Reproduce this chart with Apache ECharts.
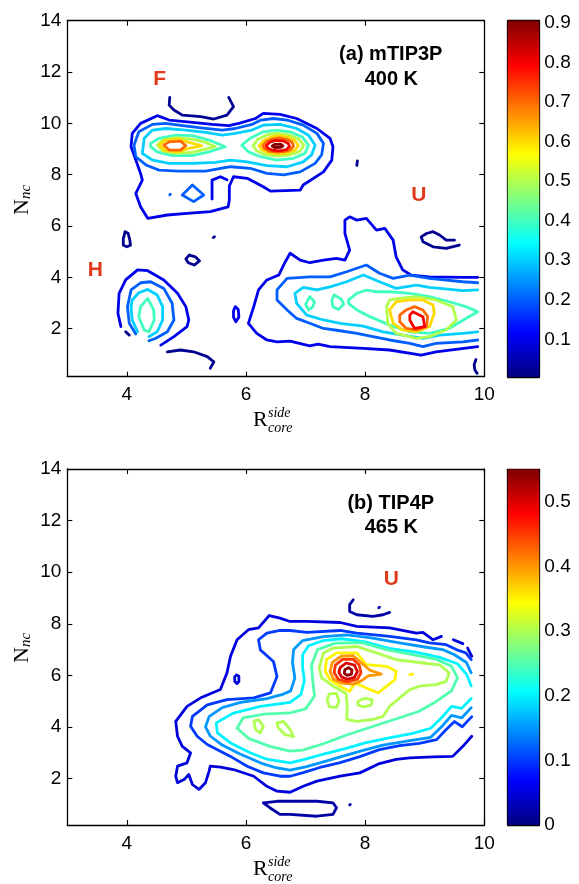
<!DOCTYPE html>
<html><head><meta charset="utf-8">
<script src="https://cdn.jsdelivr.net/npm/echarts@6/dist/echarts.min.js"></script>
<style>html,body{margin:0;padding:0;background:#fff}#c{width:579px;height:884px}</style>
</head><body><div id="c"></div>
<script>
// ================= DATA =================
const xTicks = [4, 6, 8, 10];
const yTicks = [2, 4, 6, 8, 10, 12, 14];
const xRange = [3, 10];
const yRangeA = [0.13, 14];
const yRangeB = [0.2, 14];
const cbRangeA = [0.005, 0.905];
const cbRangeB = [0, 0.55];
const cbTicksA = [0.1, 0.2, 0.3, 0.4, 0.5, 0.6, 0.7, 0.8, 0.9];
const cbTicksB = [0, 0.1, 0.2, 0.3, 0.4, 0.5];

// ---- panel (a) contour paths [x, y] ----
const aNavyArcF = [[4.72,11.01],[4.71,10.71],[4.79,10.52],[4.93,10.32],[5.24,10.26],[5.46,10.17],[5.68,10.32],[5.79,10.65],[5.71,11.01]];
const aNavyLoop1 = [[3.97,5.78],[4.02,5.72],[4.05,5.45],[4.06,5.25],[4.0,5.19],[3.94,5.25],[3.94,5.5],[3.97,5.78]];
const aNavyLoop2 = [[5.05,4.87],[5.15,4.80],[5.22,4.64],[5.13,4.48],[5.03,4.57],[4.99,4.72],[5.05,4.87]];
const aNavyDot1 = [[5.45,5.55],[5.47,5.58]];
const aNavyDot2 = [[7.86,8.36],[7.87,8.54]];
const aNavyArcU = [[9.50,5.45],[9.36,5.45],[9.25,5.65],[9.14,5.78],[9.03,5.71],[8.94,5.58],[8.97,5.39],[9.14,5.19],[9.36,5.13],[9.58,5.26]];
const aNavyArcBottom = [[4.68,1.10],[4.90,1.17],[5.12,1.10],[5.35,0.91],[5.46,0.71],[5.40,0.46]];
const aNavyEdge = [[9.86,0.80],[9.83,0.60],[9.84,0.40],[9.88,0.26]];
const aNavyDash = [[3.98,1.88],[4.04,1.75]];

const aBlueMain = [[4.51,10.30],[4.71,10.13],[5.10,10.04],[5.43,9.96],[5.71,9.91],[5.88,10.0],[6.16,10.19],[6.29,10.39],[6.57,10.35],[6.85,10.19],[7.19,9.80],[7.41,9.42],[7.46,9.09],[7.44,8.57],[7.30,8.11],[6.96,7.60],[6.91,7.40],[6.41,7.36],[6.29,7.53],[6.02,7.86],[5.79,7.92],[5.72,7.56],[5.72,7.01],[5.70,6.75],[5.40,6.56],[5.01,6.49],[4.68,6.43],[4.35,6.30],[4.23,6.75],[4.15,7.27],[4.26,7.79],[4.23,8.05],[4.15,8.57],[4.07,9.09],[4.09,9.61],[4.23,10.0],[4.51,10.30]];
const aBlueHook = [[5.43,7.05],[5.43,7.79],[5.57,7.92],[5.68,7.80]];
const aBlueSmall = [[5.82,2.86],[5.87,2.75],[5.88,2.45],[5.83,2.27],[5.79,2.45],[5.79,2.7],[5.82,2.86]];
const aBlueH = [[3.90,2.08],[3.85,2.60],[3.87,3.38],[3.98,3.90],[4.18,4.29],[4.35,4.26],[4.62,3.90],[4.85,3.38],[4.99,2.86],[5.04,2.34],[5.01,2.08],[4.79,1.69],[4.57,1.36]];
const aBlueU = [[9.89,4.0],[9.64,4.0],[9.08,4.02],[8.77,4.09],[8.63,4.29],[8.52,4.80],[8.47,5.45],[8.33,5.91],[8.19,5.84],[8.02,6.30],[7.86,6.23],[7.74,6.36],[7.66,6.23],[7.66,5.71],[7.74,5.06],[7.66,4.67],[7.52,4.74],[7.30,4.67],[7.07,4.57],[6.91,4.67],[6.74,4.94],[6.66,4.61],[6.55,4.09],[6.35,3.90],[6.21,3.51],[6.13,2.86],[6.04,2.21],[6.18,1.82],[6.35,1.56],[6.52,1.49],[6.74,1.52],[7.07,1.33],[7.21,1.40],[7.41,1.30],[7.97,1.23],[8.41,1.17],[8.94,0.97],[9.19,1.10],[9.89,1.30]];

const aMidMain = [[4.12,9.15],[4.20,9.67],[4.43,9.96],[4.65,10.0],[4.87,9.93],[5.21,9.83],[5.60,9.74],[5.82,9.80],[6.10,9.96],[6.25,10.13],[6.46,10.19],[6.69,10.13],[6.96,9.93],[7.19,9.61],[7.30,9.22],[7.27,8.77],[7.16,8.44],[6.91,8.11],[6.63,7.99],[6.35,8.05],[6.07,8.25],[5.74,8.31],[5.32,8.14],[4.87,8.14],[4.54,8.18],[4.32,8.38],[4.15,8.70],[4.12,9.15]];
const aMidLoop = [[4.93,7.21],[5.10,7.60],[5.29,7.21],[5.12,6.95],[4.93,7.21]];
const aMidDot = [[4.72,7.21],[4.73,7.24]];
const aMidH = [[4.15,1.79],[4.04,2.21],[4.01,2.86],[4.07,3.51],[4.23,3.79],[4.40,3.83],[4.62,3.57],[4.76,2.99],[4.79,2.34],[4.68,1.88],[4.48,1.62],[4.37,1.53]];
const aMidU = [[9.89,3.79],[9.64,3.83],[9.08,3.96],[8.75,4.09],[8.47,3.96],[8.24,4.16],[8.02,4.48],[7.69,4.22],[7.41,4.02],[7.07,4.02],[6.69,3.96],[6.52,3.51],[6.52,3.12],[6.69,2.73],[6.85,2.40],[7.07,2.21],[7.30,2.01],[7.58,1.92],[7.86,1.82],[8.13,1.69],[8.41,1.56],[8.75,1.43],[8.97,1.30],[9.19,1.43],[9.64,1.49],[9.89,1.56]];

const aCyMain = [[4.26,8.83],[4.29,9.42],[4.43,9.74],[4.65,9.80],[4.99,9.74],[5.32,9.65],[5.60,9.54],[5.82,9.61],[6.10,9.74],[6.29,9.93],[6.57,9.96],[6.85,9.80],[7.05,9.54],[7.16,9.15],[7.10,8.77],[6.96,8.50],[6.69,8.31],[6.35,8.35],[6.02,8.50],[5.74,8.57],[5.49,8.48],[5.10,8.44],[4.71,8.44],[4.43,8.57],[4.26,8.83]];
const aCyH = [[4.18,1.88],[4.09,2.34],[4.07,2.86],[4.09,3.12],[4.20,3.40],[4.35,3.53],[4.51,3.31],[4.60,2.86],[4.60,2.34],[4.51,1.88],[4.37,1.69]];
const aCyU = [[9.89,3.51],[9.64,3.48],[9.08,3.61],[8.86,3.70],[8.52,3.57],[8.24,3.83],[7.97,4.09],[7.69,3.83],[7.41,3.63],[7.19,3.51],[6.96,3.61],[6.82,3.38],[6.85,2.99],[7.02,2.53],[7.30,2.34],[7.58,2.21],[7.97,2.10],[8.30,1.88],[8.63,1.75],[8.97,1.62],[9.25,1.75],[9.64,1.82],[9.89,1.88]];

const aAqF = [[4.40,9.22],[4.54,9.42],[4.82,9.54],[5.10,9.52],[5.38,9.35],[5.65,9.09],[5.38,8.89],[5.10,8.74],[4.76,8.74],[4.51,8.89],[4.40,9.09],[4.40,9.22]];
const aAqC = [[5.93,9.15],[6.07,9.42],[6.29,9.67],[6.52,9.74],[6.74,9.67],[6.94,9.48],[7.05,9.15],[6.99,8.83],[6.80,8.64],[6.52,8.57],[6.24,8.70],[6.04,8.89],[5.93,9.15]];
const aAqH = [[4.35,3.18],[4.45,2.73],[4.46,2.34],[4.37,1.88],[4.29,1.95],[4.20,2.47],[4.23,2.86],[4.35,3.18]];
const aAqU = [[7.72,3.12],[7.86,3.38],[8.02,3.50],[8.19,3.44],[8.41,3.44],[8.75,3.38],[9.08,3.25],[9.41,3.05],[9.69,2.86],[9.89,2.66],[9.69,2.40],[9.41,2.01],[9.08,1.82],[8.75,1.88],[8.41,2.14],[8.08,2.47],[7.86,2.73],[7.72,2.99],[7.72,3.12]];
const aAqU1 = [[7.07,3.25],[7.15,3.05],[7.12,2.85],[7.05,2.73],[7.0,2.95],[7.07,3.25]];
const aAqU2 = [[7.48,3.32],[7.60,3.15],[7.64,2.95],[7.55,2.75],[7.46,2.85],[7.44,3.1],[7.48,3.32]];

const aYgF = [[4.51,9.15],[4.60,9.35],[4.82,9.44],[5.10,9.39],[5.32,9.26],[5.49,9.09],[5.32,9.0],[5.10,8.87],[4.82,8.83],[4.60,8.93],[4.51,9.15]];
const aYgC = [[6.12,9.13],[6.2,9.38],[6.35,9.55],[6.52,9.62],[6.72,9.55],[6.88,9.4],[6.97,9.14],[6.9,8.9],[6.72,8.76],[6.52,8.72],[6.32,8.78],[6.18,8.93],[6.12,9.13]];
const aYgU = [[8.36,2.86],[8.41,3.12],[8.58,3.18],[8.86,3.25],[9.19,3.12],[9.47,2.86],[9.53,2.34],[9.36,1.95],[9.08,1.69],[8.86,1.62],[8.52,1.82],[8.38,2.21],[8.36,2.86]];

const aYeF = [[4.54,9.15],[4.65,9.35],[4.87,9.39],[5.04,9.26],[5.26,9.12],[5.04,9.03],[4.87,8.89],[4.65,8.93],[4.54,9.15]];
const aYeC = [[6.22,9.13],[6.3,9.33],[6.42,9.47],[6.55,9.52],[6.7,9.46],[6.82,9.33],[6.88,9.13],[6.82,8.95],[6.68,8.84],[6.52,8.81],[6.36,8.86],[6.26,8.98],[6.22,9.13]];
const aYeU = [[8.41,2.73],[8.52,3.05],[8.75,3.12],[8.97,3.12],[9.14,2.92],[9.16,2.60],[9.08,2.08],[8.86,1.88],[8.63,1.95],[8.47,2.21],[8.41,2.73]];

const aOrF = [[4.62,9.15],[4.71,9.28],[4.90,9.31],[4.99,9.13],[4.90,8.96],[4.71,8.96],[4.62,9.15]];
const aOrC = [[6.28,9.13],[6.35,9.3],[6.45,9.4],[6.56,9.43],[6.68,9.38],[6.77,9.27],[6.8,9.12],[6.75,8.98],[6.64,8.9],[6.52,8.88],[6.39,8.92],[6.31,9.02],[6.28,9.13]];
const aOrU = [[8.58,2.53],[8.69,2.73],[8.83,2.86],[8.97,2.73],[9.05,2.47],[9.03,2.08],[8.86,1.95],[8.69,2.01],[8.58,2.27],[8.58,2.53]];

const aReC = [[6.34,9.13],[6.4,9.27],[6.5,9.34],[6.62,9.32],[6.71,9.22],[6.73,9.1],[6.68,8.98],[6.56,8.93],[6.44,8.96],[6.36,9.04],[6.34,9.13]];
const aReU = [[8.75,2.53],[8.80,2.66],[8.97,2.47],[9.0,2.08],[8.83,2.01],[8.75,2.34],[8.75,2.53]];
const aDrC = [[6.44,9.12],[6.48,9.18],[6.58,9.19],[6.62,9.12],[6.58,9.07],[6.48,9.06],[6.44,9.12]];

// contour list for panel (a): [level, path]
const contoursA = [
  [0.02, aNavyArcF],[0.02, aNavyLoop1],[0.02, aNavyLoop2],[0.02, aNavyDot1],[0.02, aNavyDot2],
  [0.02, aNavyArcU],[0.02, aNavyArcBottom],[0.02, aNavyEdge],[0.02, aNavyDash],
  [0.1, aBlueMain],[0.1, aBlueHook],[0.1, aBlueSmall],[0.1, aBlueH],[0.1, aBlueU],
  [0.2, aMidMain],[0.2, aMidLoop],[0.2, aMidDot],[0.2, aMidH],[0.2, aMidU],
  [0.3, aCyMain],[0.3, aCyH],[0.3, aCyU],
  [0.4, aAqF],[0.4, aAqC],[0.4, aAqH],[0.4, aAqU],[0.4, aAqU1],[0.4, aAqU2],
  [0.5, aYgF],[0.5, aYgC],[0.5, aYgU],
  [0.6, aYeF],[0.6, aYeC],[0.6, aYeU],
  [0.7, aOrF],[0.7, aOrC],[0.7, aOrU],
  [0.8, aReC],[0.8, aReU],
  [0.9, aDrC]
];

// ---- panel (b) contour paths ----
const bNavyBottom = [[6.29,1.06],[6.52,1.12],[6.74,1.12],[7.19,1.12],[7.46,1.06],[7.52,0.87],[7.46,0.61],[7.19,0.54],[6.74,0.61],[6.57,0.61],[6.40,0.87],[6.29,1.06]];
const bNavyDot = [[7.74,0.98],[7.75,1.0]];
const bNavyTop = [[7.80,8.93],[7.74,8.74],[7.74,8.48],[7.86,8.35],[8.13,8.29],[8.30,8.35],[8.41,8.44]];
const bNavyDot2 = [[8.23,8.62],[8.24,8.64]];

const b005Main = [[9.28,7.51],[9.14,7.38],[8.97,7.67],[8.86,7.64],[8.41,7.84],[7.86,7.90],[7.58,8.05],[7.02,8.09],[6.74,8.09],[6.57,8.22],[6.39,8.32],[6.21,7.84],[6.04,7.77],[5.85,7.38],[5.74,6.74],[5.68,6.09],[5.57,5.45],[5.24,5.13],[5.01,4.80],[4.82,4.22],[4.85,3.64],[4.93,3.25],[5.07,3.00],[5.01,2.61],[4.85,2.48],[4.82,2.09],[4.85,1.84],[4.96,1.96],[5.04,2.16],[5.10,1.77],[5.21,1.58],[5.32,1.84],[5.38,2.28],[5.40,2.48],[5.57,2.44],[5.79,2.35],[6.13,2.09],[6.35,1.70],[6.52,1.51],[6.74,1.47],[6.96,1.70],[7.19,1.90],[7.58,2.09],[7.91,2.22],[8.24,2.58],[8.52,2.74],[8.75,2.80],[9.14,2.84],[9.47,2.86],[9.64,3.25],[9.79,3.64]];
const b005Seg1 = [[9.48,7.38],[9.64,7.23]];
const b005Seg2 = [[9.72,7.06],[9.79,6.74]];
const b005Loop = [[5.84,6.02],[5.88,5.97],[5.88,5.76],[5.85,5.68],[5.81,5.77],[5.81,5.95],[5.84,6.02]];

const b010 = [[9.78,6.61],[9.69,6.87],[9.53,7.00],[9.36,7.19],[9.08,7.26],[8.86,7.38],[8.41,7.51],[7.86,7.64],[7.58,7.74],[7.02,7.67],[6.74,7.74],[6.57,7.74],[6.35,7.64],[6.21,7.38],[6.24,6.99],[6.46,6.54],[6.52,5.96],[6.41,5.32],[6.13,5.13],[5.68,5.06],[5.35,4.86],[5.10,4.41],[5.07,4.03],[5.18,3.64],[5.35,3.32],[5.74,2.86],[6.02,2.48],[6.29,2.22],[6.57,2.09],[6.74,2.09],[6.96,2.23],[7.24,2.43],[7.58,2.62],[7.91,2.85],[8.24,3.12],[8.58,3.28],[8.91,3.36],[9.20,3.51],[9.36,3.90],[9.50,4.21],[9.63,4.01],[9.79,4.40]];
const b015 = [[9.78,6.1],[9.7,6.5],[9.5,6.8],[9.3,7.0],[9.0,7.1],[8.6,7.25],[8.1,7.45],[7.7,7.57],[7.3,7.5],[6.95,7.35],[6.8,7.0],[6.78,6.5],[6.82,5.9],[6.75,5.4],[6.6,5.25],[6.35,5.1],[5.91,4.95],[5.6,4.75],[5.38,4.4],[5.32,4.0],[5.4,3.65],[5.6,3.3],[5.9,2.95],[6.25,2.6],[6.5,2.42],[6.74,2.33],[7.0,2.45],[7.3,2.65],[7.6,2.85],[7.95,3.08],[8.3,3.3],[8.7,3.45],[9.1,3.6],[9.3,4.05],[9.45,4.45],[9.62,4.35],[9.78,4.75]];
const b020 = [[9.78,5.6],[9.7,6.05],[9.55,6.45],[9.25,6.7],[8.85,6.9],[8.4,7.05],[8.0,7.3],[7.6,7.42],[7.3,7.35],[7.05,7.15],[6.95,6.8],[6.95,6.3],[6.98,5.8],[6.92,5.25],[6.74,4.95],[6.24,4.80],[5.79,4.54],[5.5,4.16],[5.52,3.77],[5.74,3.38],[6.07,3.0],[6.35,2.75],[6.74,2.61],[7.0,2.75],[7.3,2.95],[7.65,3.15],[8.0,3.38],[8.4,3.58],[8.8,3.75],[9.1,3.95],[9.3,4.4],[9.45,4.8],[9.62,4.72],[9.78,5.1]];
const b025 = [[7.2,7.0],[7.5,7.25],[7.95,7.27],[8.35,7.0],[8.8,6.8],[9.2,6.62],[9.45,6.35],[9.55,5.9],[9.45,5.4],[9.2,5.0],[8.9,4.6],[8.5,4.3],[8.1,4.0],[7.7,3.7],[7.3,3.35],[6.95,3.1],[6.74,3.06],[6.4,3.25],[6.05,3.55],[5.85,3.95],[5.95,4.35],[6.3,4.5],[6.74,4.55],[7.0,4.7],[7.15,5.2],[7.12,5.8],[7.1,6.4],[7.2,7.0]];
const b030 = [[7.30,6.87],[7.46,7.06],[7.86,7.12],[8.19,6.87],[8.52,6.61],[8.97,6.48],[9.25,6.41],[9.41,6.09],[9.36,5.77],[9.19,5.64],[8.91,5.58],[8.75,5.45],[8.58,5.13],[8.41,4.80],[8.30,4.41],[8.13,4.29],[7.86,4.22],[7.69,4.29],[7.70,4.74],[7.68,5.3],[7.45,5.6],[7.27,5.9],[7.23,6.3],[7.30,6.87]];
const b030s1 = [[6.13,4.22],[6.21,4.29],[6.29,4.03],[6.24,3.77],[6.16,3.90],[6.13,4.22]];
const b030s2 = [[6.52,4.16],[6.63,4.22],[6.74,3.90],[6.80,3.63],[6.66,3.70],[6.54,3.97],[6.52,4.16]];
const b030s3 = [[7.40,5.28],[7.52,5.3],[7.56,5.0],[7.52,4.76],[7.40,4.78],[7.36,5.05],[7.40,5.28]];
const b030h = [[7.88,5.0],[8.0,5.12],[8.12,5.05],[8.1,4.85],[7.98,4.78],[7.88,4.85],[7.88,5.0]];
const b035 = [[7.35,6.61],[7.52,6.87],[7.86,6.87],[8.02,6.42],[8.36,6.35],[8.52,6.16],[8.50,5.83],[8.36,5.58],[8.22,5.32],[8.02,5.51],[7.83,5.71],[7.74,5.38],[7.58,5.58],[7.41,5.83],[7.33,6.16],[7.35,6.61]];
const b035dot = [[8.75,6.03],[8.80,6.05]];
const b040 = [[7.45,6.5],[7.6,6.75],[7.8,6.76],[7.93,6.5],[8.08,6.2],[8.27,6.05],[8.05,5.98],[7.93,5.78],[7.8,5.66],[7.6,5.7],[7.47,5.85],[7.41,6.15],[7.45,6.5]];
const b045 = [[7.5,6.4],[7.62,6.62],[7.8,6.62],[7.9,6.4],[7.93,6.1],[7.87,5.85],[7.7,5.75],[7.55,5.85],[7.48,6.1],[7.5,6.4]];
const b050 = [[7.58,6.3],[7.68,6.48],[7.82,6.4],[7.87,6.15],[7.82,5.92],[7.7,5.85],[7.6,5.95],[7.56,6.12],[7.58,6.3]];
const b054 = [[7.66,6.22],[7.72,6.3],[7.78,6.2],[7.77,6.05],[7.7,6.0],[7.65,6.08],[7.66,6.22]];

const contoursB = [
  [0.02, bNavyBottom],[0.02, bNavyDot],[0.02, bNavyTop],[0.02, bNavyDot2],
  [0.05, b005Main],[0.05, b005Seg1],[0.05, b005Seg2],[0.05, b005Loop],
  [0.10, b010],[0.15, b015],[0.20, b020],[0.25, b025],
  [0.30, b030],[0.30, b030s1],[0.30, b030s2],[0.30, b030s3],[0.30, b030h],
  [0.35, b035],[0.35, b035dot],[0.40, b040],[0.45, b045],[0.50, b050],[0.54, b054]
];

// annotations (data coordinates)
const lettersA = [{name:'F', value:[4.55,11.71]}, {name:'H', value:[3.47,4.29]}, {name:'U', value:[8.90,7.21]}];
const lettersB = [{name:'U', value:[8.44,9.74]}];
const titlesA = [{name:'(a) mTIP3P', value:[8.43,12.70]}, {name:'400 K', value:[8.44,11.72]}];
const titlesB = [{name:'(b) TIP4P', value:[8.43,12.65]}, {name:'465 K', value:[8.44,11.74]}];

// ================= STYLE / BUILD =================
const SANS = '"Liberation Sans", Arial, Helvetica, sans-serif';
const SERIF = '"Liberation Serif", "Times New Roman", serif';
const LW = 2.8;
function clamp(v){ return Math.max(0, Math.min(1, v)); }
function jet(t){
  t = clamp(t);
  const r = clamp(1.5 - Math.abs(4*t - 3)), g = clamp(1.5 - Math.abs(4*t - 2)), b = clamp(1.5 - Math.abs(4*t - 1));
  return 'rgb(' + Math.round(r*255) + ',' + Math.round(g*255) + ',' + Math.round(b*255) + ')';
}
function colorOf(v, range){ return jet((v - range[0]) / (range[1] - range[0])); }

const jetStops = [];
for (let i = 0; i <= 64; i++) jetStops.push({offset: i/64, color: jet(i/64)});

const gridsPx = [
  {left:67.3, top:20.7, width:417, height:356},
  {left:67.3, top:469, width:417, height:356},
  {left:507.7, top:20.7, width:31.6, height:356.3},
  {left:507.7, top:469.3, width:31.6, height:355.7}
];

const axLine = {show:true, onZero:false, lineStyle:{color:'#000', width:1.3}};
const tickStyle = {inside:true, length:5, lineStyle:{color:'#000', width:1.1}};
const labelStyle = {color:'#000', fontFamily:SANS, fontSize:19};

function mainX(gi, pos, showLabel){
  return {type:'value', gridIndex:gi, position:pos, min:xRange[0], max:xRange[1],
    axisLine:axLine, splitLine:{show:false},
    axisTick:Object.assign({customValues:xTicks}, tickStyle),
    axisLabel:Object.assign({show:showLabel, customValues:xTicks, margin:9}, labelStyle)};
}
function mainY(gi, pos, showLabel, range){
  return {type:'value', gridIndex:gi, position:pos, min:range[0], max:range[1],
    axisLine:axLine, splitLine:{show:false},
    axisTick:Object.assign({customValues:yTicks}, tickStyle),
    axisLabel:Object.assign({show:showLabel, customValues:yTicks, margin:6}, labelStyle)};
}
function cbX(gi, pos){
  return {type:'value', gridIndex:gi, position:pos, min:0, max:1, axisLine:axLine,
    axisTick:{show:false}, axisLabel:{show:false}, splitLine:{show:false}};
}
function cbY(gi, pos, showLabel, range, ticks){
  return {type:'value', gridIndex:gi, position:pos, min:range[0], max:range[1],
    axisLine:axLine, splitLine:{show:false},
    axisTick:Object.assign({customValues:ticks}, tickStyle, {length:4}),
    axisLabel:Object.assign({show:showLabel, customValues:ticks, margin:5}, labelStyle)};
}

const series = [];
function addContours(list, xi, yi, range){
  list.forEach(function(c){
    series.push({type:'line', xAxisIndex:xi, yAxisIndex:yi, data:c[1], symbol:'none', showSymbol:false,
      silent:true, animation:false, z:2 + c[0], clip:true,
      lineStyle:{color:colorOf(c[0], range), width:LW, cap:'round', join:'round'}});
  });
}
addContours(contoursA, 0, 0, cbRangeA);
addContours(contoursB, 2, 2, cbRangeB);

function cbSeries(xi, yi, range){
  return {type:'custom', xAxisIndex:xi, yAxisIndex:yi, silent:true, animation:false, z:1,
    data:[[0, range[0]]],
    renderItem:function(params, api){
      const p0 = api.coord([0, range[0]]), p1 = api.coord([1, range[1]]);
      return {type:'rect', shape:{x:p0[0], y:p1[1], width:p1[0]-p0[0], height:p0[1]-p1[1]},
        style:{fill:new echarts.graphic.LinearGradient(0, 1, 0, 0, jetStops)}};
    }};
}
series.push(cbSeries(4, 5, cbRangeA));
series.push(cbSeries(6, 7, cbRangeB));

function textSeries(data, xi, yi, color, size){
  return {type:'scatter', xAxisIndex:xi, yAxisIndex:yi, data:data, symbolSize:1, silent:true, animation:false, z:20,
    itemStyle:{opacity:0},
    label:{show:true, position:'inside', formatter:'{b}', color:color, opacity:1, textBorderWidth:0,
      fontFamily:SANS, fontWeight:'bold', fontSize:size}};
}
series.push(textSeries(lettersA, 0, 0, '#e03a1a', 21));
series.push(textSeries(lettersB, 2, 2, '#e03a1a', 21));
series.push(textSeries(titlesA, 0, 0, '#000', 20));
series.push(textSeries(titlesB, 2, 2, '#000', 20));

function yName(cy){
  return {type:'group', x:22, y:cy, rotation:Math.PI/2, children:[
    {type:'text', x:-17, y:0, style:{text:'N', font:'22px ' + SERIF, fill:'#000', align:'left', verticalAlign:'middle', textAlign:'left', textVerticalAlign:'middle'}},
    {type:'text', x:-1, y:4, style:{text:'nc', font:'italic 15px ' + SERIF, fill:'#000', align:'left', verticalAlign:'middle', textAlign:'left', textVerticalAlign:'middle'}}
  ]};
}
function xName(dy){
  return {type:'group', x:0, y:dy, children:[
    {type:'text', x:253, y:420, style:{text:'R', font:'22px ' + SERIF, fill:'#000', align:'left', verticalAlign:'middle', textAlign:'left', textVerticalAlign:'middle'}},
    {type:'text', x:268, y:413, style:{text:'side', font:'italic 14px ' + SERIF, fill:'#000', align:'left', verticalAlign:'middle', textAlign:'left', textVerticalAlign:'middle'}},
    {type:'text', x:268, y:428, style:{text:'core', font:'italic 14px ' + SERIF, fill:'#000', align:'left', verticalAlign:'middle', textAlign:'left', textVerticalAlign:'middle'}}
  ]};
}

const option = {
  backgroundColor:'#fff',
  animation:false,
  grid: gridsPx.map(function(g){ return Object.assign({containLabel:false, outerBoundsMode:'none'}, g); }),
  xAxis:[mainX(0,'bottom',true), mainX(0,'top',false), mainX(1,'bottom',true), mainX(1,'top',false),
         cbX(2,'bottom'), cbX(2,'top'), cbX(3,'bottom'), cbX(3,'top')],
  yAxis:[mainY(0,'left',true,yRangeA), mainY(0,'right',false,yRangeA), mainY(1,'left',true,yRangeB), mainY(1,'right',false,yRangeB),
         cbY(2,'left',false,cbRangeA,cbTicksA), cbY(2,'right',true,cbRangeA,cbTicksA),
         cbY(3,'left',false,cbRangeB,cbTicksB), cbY(3,'right',true,cbRangeB,cbTicksB)],
  graphic:[yName(198), yName(646), xName(0), xName(449)],
  series:series
};
const chart = echarts.init(document.getElementById('c'), null, {renderer:'canvas'});
chart.setOption(option);
</script></body></html>
